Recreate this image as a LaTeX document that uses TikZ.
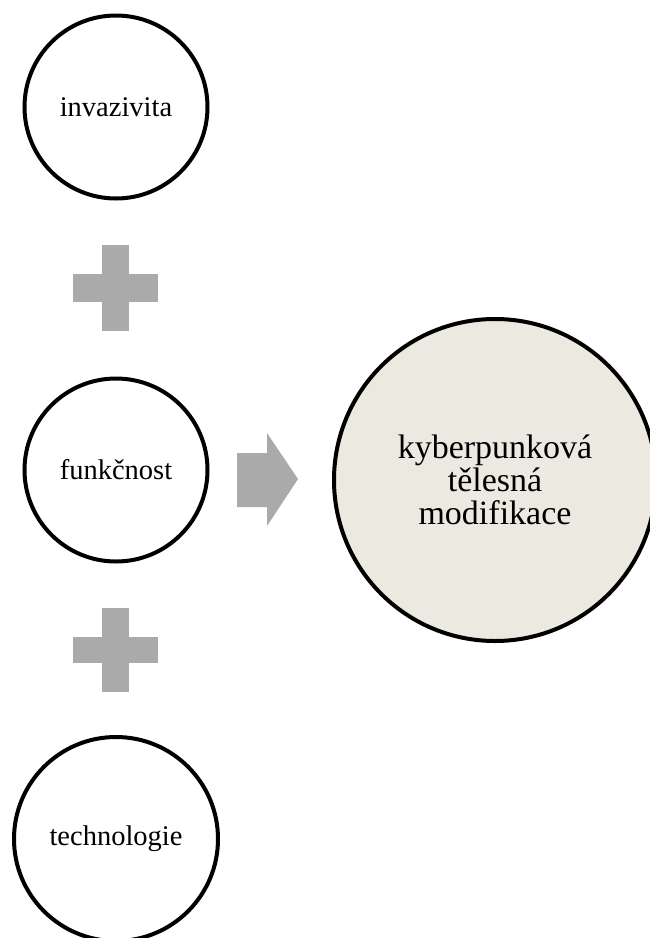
\documentclass[tikz,border=0pt]{standalone}
\usepackage{fontspec}
\setmainfont{Liberation Serif}
\usetikzlibrary{positioning}
\definecolor{plusgray}{HTML}{AAAAAA}
\definecolor{resultfill}{HTML}{ECEAE0}

\begin{document}
\begin{tikzpicture}[x=1pt, y=-1pt, node distance={363pt},
    main/.style = {draw, circle, line width=4pt, minimum size=183pt, inner sep=0pt, font=\fontsize{28.5}{32}\selectfont},
    result/.style = {main, fill=resultfill, minimum size=322pt, align=center, font=\fontsize{34}{33}\selectfont},
    sign/.style = {fill=plusgray}]
\useasboundingbox (0,0) rectangle (650,938);
\node[main] (1) at (116,107) {invazivita};
\node[main] (2) [below of=1] {funkčnost};
\node[main, minimum size=204pt] (3) [below of=2, node distance={369pt}] {technologie};
\node[result] (4) at (495,480) {kyberpunková\\tělesná\\modifikace};
% plus signs
\fill[sign] (102,245) rectangle (129,331);
\fill[sign] (73,274) rectangle (158,302);
\fill[sign] (102,608) rectangle (129,692);
\fill[sign] (73,637) rectangle (158,663);
% arrow
\fill[sign] (237,453) -- (267,453) -- (267,433) -- (298,479) -- (267,526) -- (267,507) -- (237,507) -- cycle;
\end{tikzpicture}
\end{document}
